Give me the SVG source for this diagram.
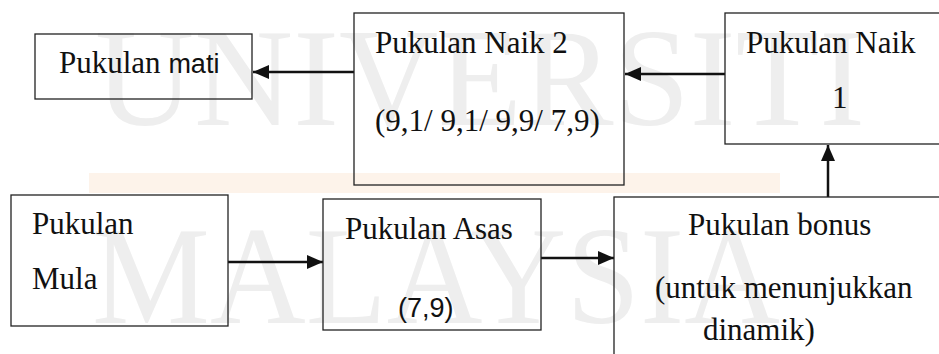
<svg xmlns="http://www.w3.org/2000/svg" width="939" height="354" viewBox="0 0 939 354">
<style>
.box{fill:none;stroke:#222;stroke-width:1.3}
.t{font-family:"Liberation Serif","Times New Roman",serif;font-size:31px;fill:#111}
.s{font-family:"Liberation Sans",Arial,sans-serif;font-size:27px;fill:#111}
.wm{font-family:"Liberation Serif","Times New Roman",serif;font-size:140px;fill:#eeeeee}
.c{stroke:#111;stroke-width:2.5;fill:none;marker-end:url(#ah)}
</style>
<defs>
<marker id="ah" viewBox="0 0 16 14" refX="16" refY="7" markerWidth="16" markerHeight="14" markerUnits="userSpaceOnUse" orient="auto">
<path d="M0,0 L16,7 L0,14 z" fill="#111"/>
</marker>
</defs>
<rect width="939" height="354" fill="#fff"/>
<g id="watermark">
<rect x="89" y="173" width="691" height="20" fill="#fdf3ea"/>
<text class="wm" x="95" y="125" textLength="770" lengthAdjust="spacingAndGlyphs">UNIVERSITI</text>
<text class="wm" x="92" y="323" textLength="688" lengthAdjust="spacingAndGlyphs">MALAYSIA</text>
</g>
<g id="connectors">
<line class="c" x1="354" y1="72" x2="253" y2="72"/>
<line class="c" x1="725" y1="74" x2="625" y2="74"/>
<line class="c" x1="828" y1="197" x2="828" y2="145"/>
<line class="c" x1="228" y1="262" x2="323" y2="262"/>
<line class="c" x1="541" y1="258" x2="614" y2="258"/>
</g>
<g id="mati">
<rect class="box" x="35" y="34" width="217" height="65"/>
<text x="59" y="73"><tspan class="t">Pukulan </tspan><tspan class="s">mati</tspan></text>
</g>
<g id="naik2">
<rect class="box" x="354" y="13" width="270" height="172"/>
<text class="t" x="375" y="53">Pukulan Naik 2</text>
<text class="t" x="375" y="131">(9,1/ 9,1/ 9,9/ 7,9)</text>
</g>
<g id="naik1">
<rect class="box" x="725" y="13" width="230" height="131"/>
<text class="t" x="746" y="53">Pukulan Naik</text>
<text class="t" x="832" y="108">1</text>
</g>
<g id="mula">
<rect class="box" x="11" y="195" width="217" height="131"/>
<text class="t" x="32" y="234">Pukulan</text>
<text class="t" x="32" y="289">Mula</text>
</g>
<g id="asas">
<rect class="box" x="323" y="199" width="218" height="131"/>
<text class="t" x="345" y="239">Pukulan Asas</text>
<text class="s" x="398" y="317">(7,9)</text>
</g>
<g id="bonus">
<rect class="box" x="614" y="197" width="340" height="180"/>
<text class="t" x="688" y="235">Pukulan bonus</text>
<text class="t" x="655" y="298">(untuk menunjukkan</text>
<text class="t" x="703" y="340">dinamik)</text>
</g>
</svg>
